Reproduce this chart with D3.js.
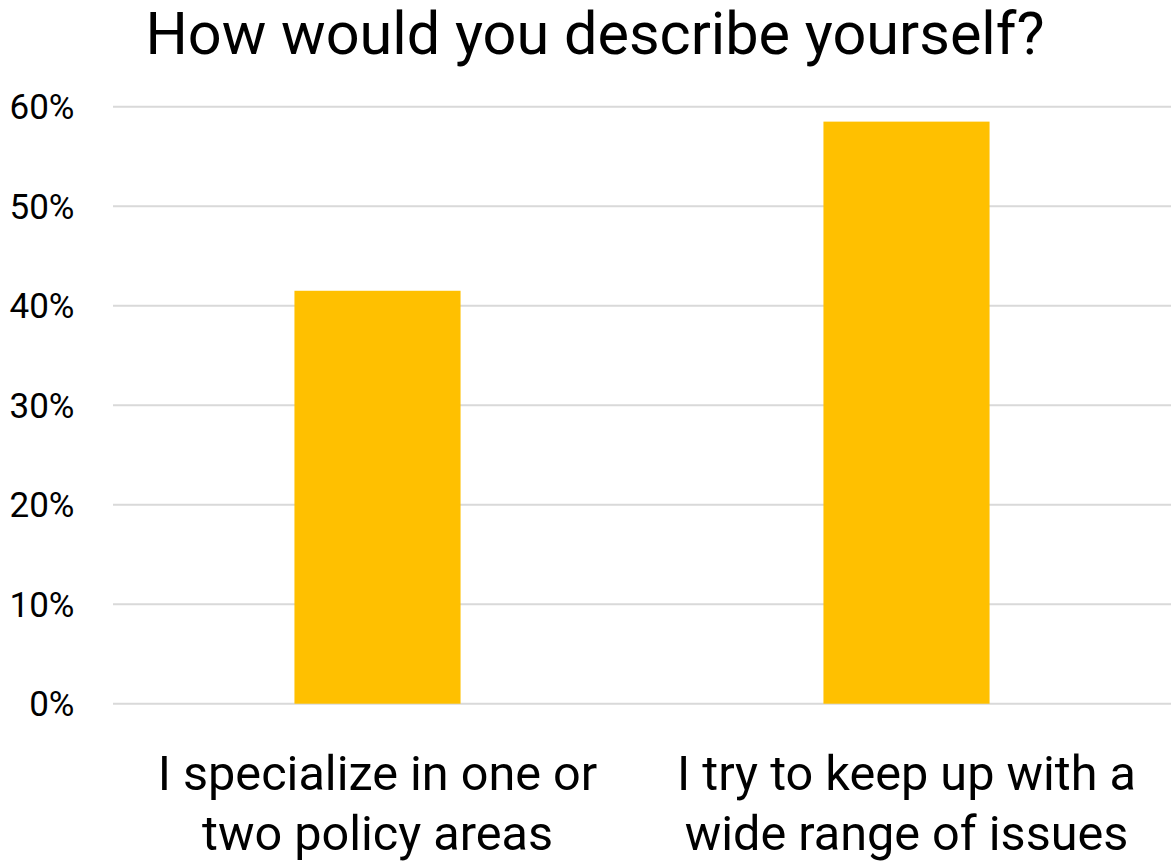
<!DOCTYPE html>
<html><head><meta charset="utf-8">
<script src="https://cdn.jsdelivr.net/npm/d3@7"></script>
<style>body{margin:0;background:#fff}svg{display:block}text{font-family:Roboto,sans-serif;fill:#000}</style>
</head><body>
<svg id="c" width="1171" height="864"></svg>
<script>
const title = "How would you describe yourself?";
const categories = [["I specialize in one or","two policy areas"],["I try to keep up with a","wide range of issues"]];
const values = [0.415, 0.585];
const yTicks = [0,0.1,0.2,0.3,0.4,0.5,0.6];

const svg = d3.select("#c");
const m = {l:113, r:1171, t:106.7, b:703.7};
const x = d3.scaleBand().domain(d3.range(categories.length)).range([m.l,m.r]).padding(0);
const y = d3.scaleLinear().domain([0,0.6]).range([m.b,m.t]);
const barW = x.bandwidth()*0.314;

svg.append("g").selectAll("line").data(yTicks).join("line")
  .attr("x1",m.l).attr("x2",m.r).attr("y1",d=>y(d)).attr("y2",d=>y(d))
  .attr("stroke","#d9d9d9").attr("stroke-width",2);

svg.append("g").selectAll("text").data(yTicks).join("text")
  .attr("x",74.5).attr("y",d=>y(d)).attr("dy","0.36em").attr("text-anchor","end")
  .attr("font-size",35).text(d3.format(".0%"));

svg.append("g").selectAll("rect").data(values).join("rect")
  .attr("x",(d,i)=>x(i)+x.bandwidth()/2-barW/2).attr("width",barW)
  .attr("y",d=>y(d)).attr("height",d=>y(0)-y(d)).attr("fill","#FFC000");

const lbl = svg.append("g").selectAll("text").data(categories).join("text")
  .attr("text-anchor","middle").attr("font-size",48.6)
  .attr("transform",(d,i)=>`translate(${x(i)+x.bandwidth()/2},790)`);
lbl.selectAll("tspan").data(d=>d).join("tspan").attr("x",0).attr("dy",(d,j)=>j?60:0).text(d=>d);

svg.append("text").attr("x",595).attr("y",54).attr("text-anchor","middle")
  .attr("font-size",59.4).text(title);
</script>
</body></html>
